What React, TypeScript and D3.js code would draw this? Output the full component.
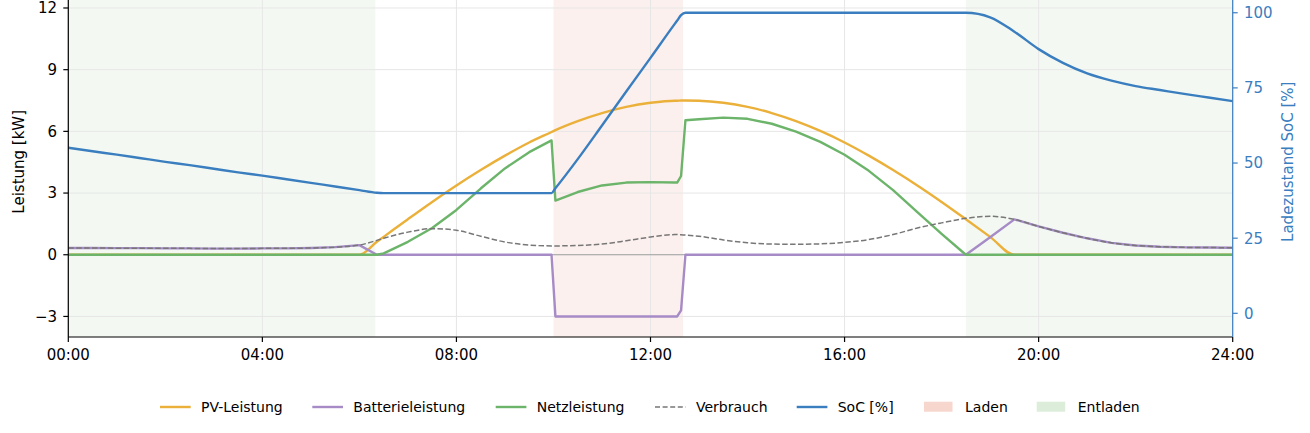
import * as d3 from 'd3';

// time axis in hours (denser around the charge start / stop)
const hours = [
  0, 0.5, 1, 1.5, 2, 2.5, 3, 3.5, 4, 4.5, 5, 5.5, 6, 6.36, 6.5, 7, 7.5, 8, 8.5, 9, 9.5,
  9.96, 10.04, 10.5, 11, 11.5, 12, 12.5, 12.55, 12.63, 12.72,
  13, 13.5, 14, 14.5, 15, 15.5, 16, 16.5, 17, 17.5, 18, 18.5, 19, 19.5, 20, 20.5, 21, 21.5, 22, 22.5, 23, 23.5, 24,
];

const pvPower = [
  0, 0, 0, 0, 0, 0, 0, 0, 0, 0, 0, 0, 0, 0.63, 0.87, 1.73, 2.57, 3.37, 4.12, 4.82, 5.46,
  5.97, 6.06, 6.5, 6.89, 7.19, 7.39, 7.49, 7.49, 7.5, 7.5,
  7.49, 7.39, 7.19, 6.89, 6.5, 6.02, 5.46, 4.82, 4.12, 3.37, 2.57, 1.73, 0.87, 0, 0, 0, 0, 0, 0, 0, 0, 0, 0,
];

const batteryPower = [
  0.33, 0.33, 0.32, 0.32, 0.31, 0.31, 0.3, 0.3, 0.31, 0.31, 0.33, 0.37, 0.47, 0, 0, 0, 0, 0, 0, 0, 0,
  0, -3, -3, -3, -3, -3, -3, -3, -2.7, 0,
  0, 0, 0, 0, 0, 0, 0, 0, 0, 0, 0, 0, 0.85, 1.72, 1.38, 1.07, 0.8, 0.58, 0.45, 0.39, 0.36, 0.35, 0.34,
];

const gridPower = [
  0, 0, 0, 0, 0, 0, 0, 0, 0, 0, 0, 0, 0, 0, 0.07, 0.63, 1.3, 2.18, 3.22, 4.2, 4.99,
  5.56, 2.63, 3.05, 3.37, 3.51, 3.53, 3.51, 3.51, 3.83, 6.54,
  6.59, 6.67, 6.61, 6.37, 5.99, 5.49, 4.86, 4.08, 3.14, 2.07, 1.02, 0, 0, 0, 0, 0, 0, 0, 0, 0, 0, 0, 0,
];

const consumption = [
  0.33, 0.33, 0.32, 0.32, 0.31, 0.31, 0.3, 0.3, 0.31, 0.31, 0.33, 0.37, 0.47, 0.7, 0.8, 1.1, 1.27, 1.19, 0.9, 0.62, 0.47,
  0.43, 0.43, 0.45, 0.52, 0.68, 0.86, 0.98, 0.98, 0.97, 0.96,
  0.9, 0.72, 0.58, 0.52, 0.51, 0.53, 0.6, 0.74, 0.98, 1.3, 1.55, 1.77, 1.87, 1.72, 1.38, 1.07, 0.8, 0.58, 0.45, 0.39, 0.36, 0.35, 0.34,
];

const soc = [
  55.1, 53.9, 52.8, 51.6, 50.4, 49.3, 48.1, 46.9, 45.8, 44.6, 43.4, 42.2, 41.0, 40.1, 40, 40, 40, 40, 40, 40, 40,
  40, 41.6, 51.3, 62.5, 73.8, 85.0, 96.3, 97.4, 99.2, 100,
  100, 100, 100, 100, 100, 100, 100, 100, 100, 100, 100, 100, 98.5, 93.7, 87.9, 83.3, 79.8, 77.4, 75.6, 74.3, 73.0, 71.8, 70.6,
];

const chargeWindows = [[10.0, 12.67]];
const dischargeWindows = [[0, 6.33], [18.5, 24]];

const xTicks = [0, 4, 8, 12, 16, 20, 24];
const leftTicks = [-3, 0, 3, 6, 9, 12];
const rightTicks = [0, 25, 50, 75, 100];

const C = {
  pv: '#ebb03a',
  bat: '#a68bc7',
  grid: '#6cb46a',
  cons: '#777777',
  soc: '#3a7ebf',
  laden: '#fcf0ee',
  ladenLegend: '#f7d6ce',
  entladen: '#f3f9f2',
  entladenLegend: '#dcedda',
  gridline: '#e6e6e6',
};

const FONT = '"DejaVu Sans", sans-serif';

const fmtHour = (h: number) => `${String(h).padStart(2, '0')}:00`;
const fmtNum = (v: number) => (v < 0 ? `\u2212${Math.abs(v)}` : String(v));

export default function App() {
  const W = 1310;
  const H = 433;
  const left = 68.3;
  const right = 1232.7;
  const top = -13.4;
  const bottom = 337;

  const x = d3.scaleLinear().domain([0, 24]).range([left, right]);
  const yL = d3.scaleLinear().domain([-4, 13.04]).range([bottom, top]);
  const yR = d3.scaleLinear().domain([-7.88, 108.7]).range([bottom, top]);

  const mkLine = (vals: number[], scale: d3.ScaleLinear<number, number>, curve: d3.CurveFactory) =>
    d3
      .line<number>()
      .x((_, i) => x(hours[i]))
      .y((d) => scale(d))
      .curve(curve)(vals) ?? '';

  const legendItems = [
    { label: 'PV-Leistung', kind: 'line', color: C.pv, x: 160 },
    { label: 'Batterieleistung', kind: 'line', color: C.bat, x: 312.3 },
    { label: 'Netzleistung', kind: 'line', color: C.grid, x: 495.7 },
    { label: 'Verbrauch', kind: 'dash', color: C.cons, x: 655 },
    { label: 'SoC [%]', kind: 'line', color: C.soc, x: 796.7 },
    { label: 'Laden', kind: 'patch', color: C.ladenLegend, x: 924 },
    { label: 'Entladen', kind: 'patch', color: C.entladenLegend, x: 1036.7 },
  ];

  return (
    <div style={{ position: 'absolute', left: 0, top: 0 }}>
      <svg width={W} height={H} style={{ display: 'block', background: '#fff' }} fontFamily={FONT}>
        <defs>
          <clipPath id="plot">
            <rect x={left} y={top} width={right - left} height={bottom - top} />
          </clipPath>
        </defs>

        {/* shaded windows */}
        {dischargeWindows.map(([a, b], i) => (
          <rect key={`e${i}`} x={x(a)} y={top} width={x(b) - x(a)} height={bottom - top} fill={C.entladen} />
        ))}
        {chargeWindows.map(([a, b], i) => (
          <rect key={`l${i}`} x={x(a)} y={top} width={x(b) - x(a)} height={bottom - top} fill={C.laden} />
        ))}

        {/* grid */}
        {xTicks.map((t) => (
          <line key={`gx${t}`} x1={x(t)} x2={x(t)} y1={top} y2={bottom} stroke={C.gridline} strokeWidth={1} />
        ))}
        {leftTicks.map((t) => (
          <line key={`gy${t}`} x1={left} x2={right} y1={yL(t)} y2={yL(t)} stroke={C.gridline} strokeWidth={1} />
        ))}
        <line x1={left} x2={right} y1={yL(0)} y2={yL(0)} stroke="#a0a0a0" strokeWidth={1} />

        <g clipPath="url(#plot)" fill="none" strokeLinejoin="round">
          <path d={mkLine(pvPower, yL, d3.curveMonotoneX)} stroke={C.pv} strokeWidth={2.4} />
          <path d={mkLine(batteryPower, yL, d3.curveLinear)} stroke={C.bat} strokeWidth={2.4} />
          <path d={mkLine(gridPower, yL, d3.curveLinear)} stroke={C.grid} strokeWidth={2.4} />
          <path d={mkLine(consumption, yL, d3.curveMonotoneX)} stroke={C.cons} strokeWidth={1.5} strokeDasharray="5.5 2.4" />
          <path d={mkLine(soc, yR, d3.curveMonotoneX)} stroke={C.soc} strokeWidth={2.4} />
        </g>

        {/* spines */}
        <line x1={left} x2={left} y1={top} y2={bottom} stroke="#000" strokeWidth={1.2} />
        <line x1={left} x2={right} y1={bottom} y2={bottom} stroke="#000" strokeWidth={1.2} />
        <line x1={right} x2={right} y1={top} y2={bottom} stroke={C.soc} strokeWidth={1.2} />

        {/* x axis */}
        {xTicks.map((t) => (
          <g key={`xt${t}`}>
            <line x1={x(t)} x2={x(t)} y1={bottom} y2={bottom + 5} stroke="#000" strokeWidth={1.2} />
            <text x={x(t)} y={360} textAnchor="middle" fontSize={15} fill="#000">
              {fmtHour(t)}
            </text>
          </g>
        ))}

        {/* left axis */}
        {leftTicks.map((t) => (
          <g key={`yl${t}`}>
            <line x1={left - 5} x2={left} y1={yL(t)} y2={yL(t)} stroke="#000" strokeWidth={1.2} />
            <text x={57} y={yL(t)} dy="0.36em" textAnchor="end" fontSize={15} fill="#000">
              {fmtNum(t)}
            </text>
          </g>
        ))}
        <text transform={`translate(24,${(top + bottom) / 2}) rotate(-90)`} textAnchor="middle" fontSize={15} fill="#000">
          Leistung [kW]
        </text>

        {/* right axis */}
        {rightTicks.map((t) => (
          <g key={`yr${t}`}>
            <line x1={right} x2={right + 5} y1={yR(t)} y2={yR(t)} stroke={C.soc} strokeWidth={1.2} />
            <text x={1244} y={yR(t)} dy="0.36em" textAnchor="start" fontSize={15} fill={C.soc}>
              {t}
            </text>
          </g>
        ))}
        <text
          transform={`translate(1293,${(top + bottom) / 2}) rotate(-90)`}
          textAnchor="middle"
          fontSize={15}
          fill={C.soc}
        >
          Ladezustand SoC [%]
        </text>

        {/* legend */}
        {legendItems.map((it) => (
          <g key={it.label}>
            {it.kind === 'patch' ? (
              <rect x={it.x} y={401.7} width={28.5} height={10} fill={it.color} />
            ) : (
              <line
                x1={it.x}
                x2={it.x + 30.7}
                y1={407}
                y2={407}
                stroke={it.color}
                strokeWidth={it.kind === 'dash' ? 1.5 : 2.4}
                strokeDasharray={it.kind === 'dash' ? '5 2.6' : undefined}
              />
            )}
            <text x={it.x + 41} y={407} dy="0.36em" fontSize={14} fill="#000">
              {it.label}
            </text>
          </g>
        ))}
      </svg>
    </div>
  );
}
